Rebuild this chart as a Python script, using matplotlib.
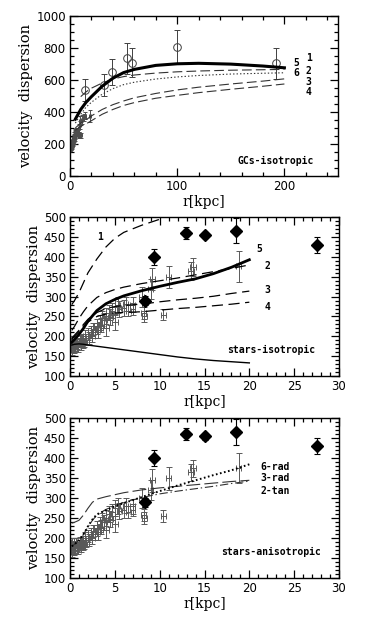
import matplotlib
matplotlib.use("Agg")
import matplotlib.pyplot as plt
import numpy as np
from matplotlib.ticker import MultipleLocator

# ---------------- data ----------------
# GC data (open circles)
gc_r = [14.4, 31.4, 39.4, 53.4, 57.6, 99.8, 192.6]
gc_v = [536, 568, 649, 734, 707, 807, 703]
gc_e = [70, 70, 80, 95, 90, 105, 95]

# stellar kinematics (crosses)
st_r = [0.1, 0.2, 0.25, 0.3, 0.4, 0.45, 0.5, 0.6, 0.7, 0.8, 0.9, 1.0, 1.1, 1.2, 1.3,
        1.4, 1.5, 1.6, 1.7, 1.8, 2.0, 2.1, 2.3, 2.5, 2.6, 2.8, 3.0, 3.1, 3.3, 3.5,
        3.6, 3.8, 4.0, 4.0, 4.3, 4.5, 4.7, 5.0, 5.0, 5.3, 5.5, 6.0, 6.2, 6.5, 7.0,
        7.0, 8.0, 8.2, 8.3, 9.0, 9.2, 10.4, 11.0, 13.5, 13.7, 18.8]
st_v = [175, 185, 165, 178, 190, 170, 182, 175, 188, 180, 172, 185, 192, 178, 188,
        182, 195, 185, 200, 190, 205, 195, 210, 200, 218, 210, 225, 215, 235, 228,
        245, 240, 220, 252, 260, 248, 265, 237, 275, 280, 268, 272, 282, 265, 280,
        270, 300, 258, 250, 320, 345, 255, 350, 365, 375, 376]
st_e = [15, 15, 12, 12, 12, 12, 12, 12, 12, 12, 12, 12, 12, 12, 12,
        12, 12, 12, 15, 12, 15, 15, 15, 15, 15, 15, 18, 18, 18, 18,
        18, 18, 20, 20, 20, 20, 20, 20, 20, 20, 20, 20, 18, 15, 18,
        15, 25, 15, 15, 25, 28, 15, 28, 22, 22, 38]

# filled diamonds
dm_r = [8.4, 9.4, 12.9, 15.0, 18.5, 27.5]
dm_v = [290, 400, 461, 455, 466, 430]
dm_e = [12, 20, 15, 8, 32, 20]

# panel 1 models
m1_r = [5, 10, 15, 20, 30, 40, 50, 60, 80, 100, 120, 150, 180, 200]
m1_thick = [355, 415, 460, 495, 560, 610, 645, 665, 690, 700, 703, 698, 686, 675]
m1_ld_r = [10, 15, 20, 30, 40, 50, 60, 80, 100, 120, 150, 180, 200]
m1_ld = [495, 525, 548, 580, 605, 620, 630, 642, 650, 655, 660, 663, 665]
m1_dot = [330, 385, 430, 460, 510, 545, 570, 585, 605, 618, 627, 636, 641, 644]
m1_d3 = [300, 330, 350, 375, 415, 445, 468, 488, 515, 537, 554, 574, 592, 606]
m1_d4 = [285, 310, 325, 345, 385, 415, 440, 458, 485, 503, 520, 541, 560, 574]

# panel 2 models
m2_r = [0.2, 0.5, 1, 1.5, 2, 3, 4, 5, 6, 8, 10, 12, 14, 16, 18, 20]
m2_thick = [185, 192, 205, 220, 238, 265, 282, 293, 302, 315, 326, 336, 345, 358, 374, 393]
m2_l2 = [215, 225, 245, 262, 277, 298, 310, 318, 324, 333, 340, 347, 355, 363, 371, 380]
m2_l3 = [195, 203, 215, 230, 243, 260, 270, 275, 278, 281, 287, 292, 296, 301, 308, 314]
m2_l4 = [192, 200, 212, 225, 236, 250, 256, 259, 260, 262, 266, 270, 273, 277, 281, 286]
m2_thin = [178, 180, 181, 180, 178, 175, 172, 169, 166, 160, 154, 148, 143, 139, 136, 133]
m2_l1_r = [0.2, 0.5, 1, 1.5, 2, 3, 4, 5, 6, 8, 10, 10.5]
m2_l1 = [280, 290, 310, 335, 360, 395, 425, 447, 462, 480, 495, 500]

# panel 3 models
m3_r = [0.2, 0.5, 1, 1.5, 2, 2.5, 3, 4, 5, 6, 8, 10, 12, 14, 16, 18, 20]
m3_tan = [238, 240, 245, 258, 275, 290, 298, 304, 309, 314, 321, 326, 330, 334, 338, 342, 345]
m3_rad3 = [180, 185, 195, 210, 228, 245, 258, 272, 282, 290, 302, 311, 318, 324, 330, 337, 343]
m3_rad6 = [180, 185, 195, 210, 230, 247, 260, 270, 280, 288, 303, 318, 332, 345, 358, 370, 385]

# ---------------- style ----------------
plt.rcParams['font.family'] = ['DejaVu Sans']
plt.rcParams['lines.scale_dashes'] = False

fig = plt.figure(figsize=(3.74, 6.2), dpi=100)
W, H = 374.0, 620.0

def make_ax(left, top, right, bottom):
    return fig.add_axes([left / W, 1 - bottom / H, (right - left) / W, (bottom - top) / H])

ax1 = make_ax(70, 15.7, 338, 176)
ax2 = make_ax(70, 217.3, 339, 376)
ax3 = make_ax(70, 418.3, 339, 578.3)

lab_font = dict(family='DejaVu Serif', fontsize=10)
ylab_font = dict(family='DejaVu Serif', fontsize=10.5)
txt_font = dict(family='DejaVu Sans Mono', fontsize=7, fontweight='bold')

def style(ax, xmaj, xmin, ymaj, ymin):
    ax.xaxis.set_major_locator(MultipleLocator(xmaj))
    ax.xaxis.set_minor_locator(MultipleLocator(xmin))
    ax.yaxis.set_major_locator(MultipleLocator(ymaj))
    ax.yaxis.set_minor_locator(MultipleLocator(ymin))
    ax.tick_params(which='both', direction='in', top=True, right=True, width=0.9,
                   labelsize=8.5, colors='black')
    ax.tick_params(which='major', length=6, pad=3)
    ax.tick_params(which='minor', length=3)
    for s in ax.spines.values():
        s.set_linewidth(1.0)
    ax.set_ylabel('velocity  dispersion', labelpad=2, **ylab_font)
    ax.set_xlabel('r[kpc]', labelpad=1, **lab_font)

def stars(ax):
    ax.errorbar(st_r, st_v, yerr=st_e, xerr=0.3, fmt='none', ecolor='0.35',
                elinewidth=0.7, capsize=2, capthick=0.7, zorder=2)

def diamonds(ax):
    ax.errorbar(dm_r, dm_v, yerr=dm_e, fmt='D', color='black', ms=6,
                elinewidth=0.8, capsize=2.5, capthick=0.8, zorder=4)

# ---------- panel 1 ----------
ax1.set_xlim(0, 250)
ax1.set_ylim(0, 1000)
style(ax1, 100, 20, 200, 50)
ax1.errorbar(st_r, st_v, yerr=st_e, xerr=1.0, fmt='none', ecolor='0.3',
             elinewidth=0.7, capsize=1.5, capthick=0.7, zorder=2)
ax1.errorbar(gc_r, gc_v, yerr=gc_e, fmt='o', mfc='none', mec='0.25', ms=5.5,
             mew=0.7, ecolor='0.25', elinewidth=0.7, capsize=2.5, capthick=0.7, zorder=3)
ax1.plot(m1_r, m1_thick, color='black', lw=2.2, zorder=5)
l, = ax1.plot(m1_ld_r, m1_ld, color='0.2', lw=0.8, zorder=4); l.set_dashes([7, 3])
l, = ax1.plot(m1_r, m1_dot, color='0.2', lw=0.8, zorder=4); l.set_dashes([1, 1.5])
l, = ax1.plot(m1_r, m1_d3, color='0.2', lw=0.8, zorder=4); l.set_dashes([7, 3])
l, = ax1.plot(m1_r, m1_d4, color='0.2', lw=0.8, zorder=4); l.set_dashes([7, 3])
ax1.text(156, 95, 'GCs-isotropic', va='center', ha='left', **txt_font)
for s, x, y in [('5', 208, 707), ('1', 220, 738), ('6', 208, 641), ('2', 220, 657),
                ('3', 220, 588), ('4', 220, 522)]:
    ax1.text(x, y, s, va='center', ha='left', **txt_font)

# ---------- panel 2 ----------
ax2.set_xlim(0, 30)
ax2.set_ylim(100, 500)
style(ax2, 5, 1, 50, 10)
stars(ax2)
diamonds(ax2)
ax2.plot(m2_r, m2_thick, color='black', lw=2.0, zorder=5)
ax2.plot(m2_r, m2_thin, color='black', lw=1.0, zorder=5)
l, = ax2.plot(m2_l1_r, m2_l1, color='black', lw=0.9, zorder=5); l.set_dashes([8, 4])
l, = ax2.plot(m2_r, m2_l2, color='black', lw=0.9, zorder=5); l.set_dashes([8, 4])
l, = ax2.plot(m2_r, m2_l3, color='black', lw=0.9, zorder=5); l.set_dashes([8, 4])
l, = ax2.plot(m2_r, m2_l4, color='black', lw=0.9, zorder=5); l.set_dashes([8, 4])
ax2.text(17.5, 166, 'stars-isotropic', va='center', ha='left', **txt_font)
for s, x, y in [('1', 3.0, 450), ('5', 20.8, 419), ('2', 21.7, 378),
                ('3', 21.7, 317), ('4', 21.7, 275)]:
    ax2.text(x, y, s, va='center', ha='left', **txt_font)

# ---------- panel 3 ----------
ax3.set_xlim(0, 30)
ax3.set_ylim(100, 500)
style(ax3, 5, 1, 50, 10)
stars(ax3)
diamonds(ax3)
l, = ax3.plot(m3_r, m3_tan, color='0.2', lw=0.8, zorder=5); l.set_dashes([10, 3])
l, = ax3.plot(m3_r, m3_rad3, color='0.2', lw=0.8, zorder=5); l.set_dashes([6, 2, 1, 2])
l, = ax3.plot(m3_r, m3_rad6, color='black', lw=1.4, zorder=5); l.set_dashes([1.2, 1.8])
ax3.text(16.8, 166, 'stars-anisotropic', va='center', ha='left', **txt_font)
for s, y in [('6-rad', 379), ('3-rad', 350), ('2-tan', 319)]:
    ax3.text(21.2, y, s, va='center', ha='left', **txt_font)

fig.savefig('out.png', dpi=100)
